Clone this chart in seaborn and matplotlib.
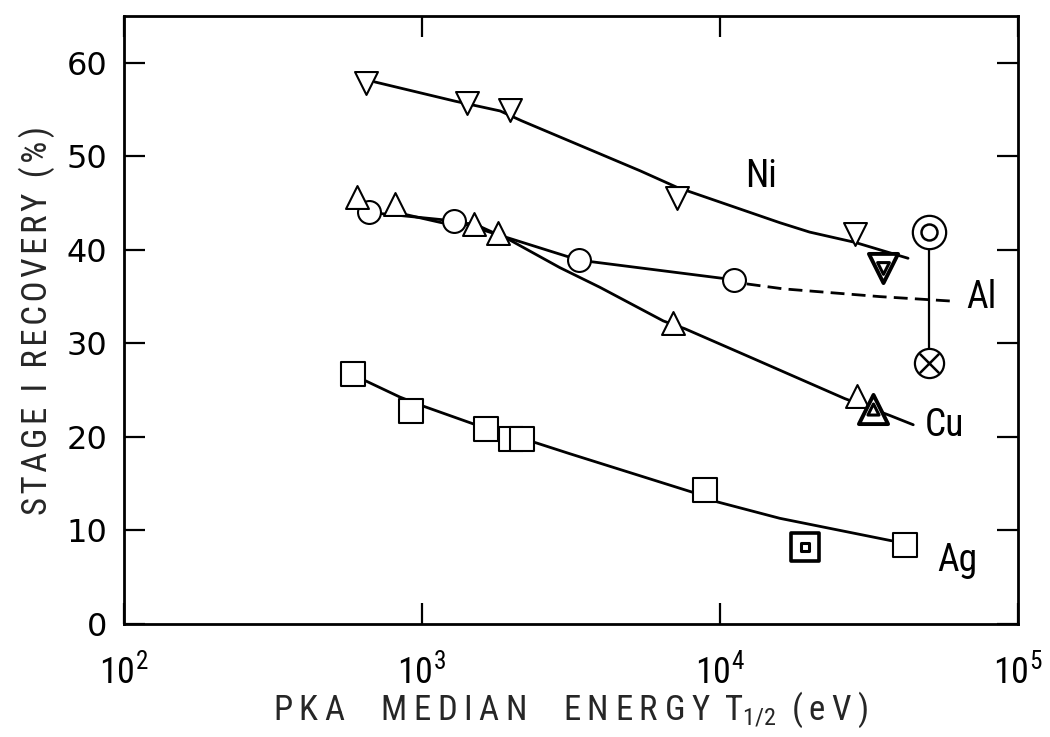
import matplotlib
matplotlib.use("Agg")
import matplotlib.pyplot as plt
import seaborn as sns
import pandas as pd
from matplotlib import font_manager

# ---------------- data ----------------
ni_x = [647, 1416, 1968, 7163, 28440]
ni_y = [57.8, 55.7, 54.9, 45.5, 41.65]
ni_curve_x = [695, 1290, 1830, 2160, 5400, 7160, 15900, 20000, 28400, 42800]
ni_curve_y = [57.95, 55.9, 54.85, 53.8, 48.45, 46.7, 42.9, 41.9, 40.8, 39.1]
ni_special_x = [35200]
ni_special_y = [38.1]

al_x = [667, 1279, 3366, 11150]
al_y = [44.0, 43.1, 38.9, 36.8]
al_dash_x = [12300, 16330, 34440, 61500]
al_dash_y = [36.36, 35.83, 35.0, 34.5]
al_special_x = [50200, 50200]
al_special_y = [41.9, 27.9]

cu_x = [607, 811, 1493, 1807, 6970, 28770]
cu_y = [45.6, 44.9, 42.8, 41.8, 32.2, 24.4]
cu_curve_x = [889, 1165, 1493, 1986, 2904, 3955, 6460, 7640, 12900, 26240, 37150, 44560]
cu_curve_y = [43.75, 42.9, 42.8, 41.0, 38.1, 36.0, 32.4, 31.56, 28.4, 24.1, 22.3, 21.3]
cu_special_x = [32700]
cu_special_y = [23.0]

ag_x = [585, 916, 1637, 1987, 2174, 8920, 41800]
ag_y = [26.75, 22.8, 20.8, 19.8, 19.8, 14.3, 8.4]
ag_curve_x = [647, 844, 1009, 1486, 2427, 3140, 8070, 9820, 15890, 37680]
ag_curve_y = [26.0, 24.26, 23.3, 21.4, 19.35, 18.2, 14.1, 13.05, 11.3, 8.9]
ag_special_x = [19320]
ag_special_y = [8.2]

labels = ["Ni", "Al", "Cu", "Ag"]
label_x = [12130, 67300, 48750, 53700]
label_y = [47.8, 34.9, 21.2, 6.8]

x_ticks = [1e2, 1e3, 1e4, 1e5]
x_ticklabels = [r"$10^{2}$", r"$10^{3}$", r"$10^{4}$", r"$10^{5}$"]
y_ticks = [0, 10, 20, 30, 40, 50, 60]

x_title_parts = ["PKA  MEDIAN  ENERGY ", r"T$_{1/2}$", " (eV)"]
y_title = "STAGE I RECOVERY (%)"

# ---------------- style ----------------
sns.set_theme(style="ticks")
avail = {f.name for f in font_manager.fontManager.ttflist}
def pick(names):
    for n in names:
        if n in avail:
            return n
    return "DejaVu Sans"
narrow = pick(["Liberation Sans Narrow", "Roboto Condensed", "DejaVu Sans"])
plt.rcParams["font.family"] = [narrow, "DejaVu Sans"]
plt.rcParams["mathtext.fontset"] = "custom"
plt.rcParams["mathtext.rm"] = narrow
plt.rcParams["mathtext.it"] = narrow
plt.rcParams["mathtext.bf"] = narrow

def spaced(s, sep="\u2009"):
    return sep.join(list(s))

fig = plt.figure(figsize=(10.5, 7.37), dpi=100)
ax = fig.add_axes([0.118, 0.1533, 0.8514, 0.825])
ax.set_xscale("log")

LW = 2.0
def curve(xs, ys, **kw):
    sns.lineplot(x=xs, y=ys, ax=ax, color="black", lw=LW, sort=False,
                 estimator=None, zorder=1, **kw)

curve(ni_curve_x, ni_curve_y)
curve(al_x, al_y)
curve(al_dash_x, al_dash_y)
ax.lines[-1].set_dashes([5, 2.6])
curve(cu_curve_x, cu_curve_y)
curve(ag_curve_x, ag_curve_y)
sns.lineplot(x=al_special_x, y=al_special_y, ax=ax, color="black", lw=1.6,
             sort=False, estimator=None, zorder=1)

def pts(xs, ys, marker, size, lw=1.5, z=3, face="white"):
    sns.scatterplot(x=xs, y=ys, ax=ax, marker=marker, s=size ** 2,
                    facecolor=face, edgecolor="black", linewidth=lw,
                    zorder=z, legend=False)

pts(ni_x, ni_y, "v", 16.5)
pts(al_x, al_y, "o", 16.5)
pts(cu_x, cu_y, "^", 16.5)
pts(ag_x, ag_y, "s", 17)

# special (double) symbols
pts(ni_special_x, ni_special_y, "v", 21, lw=2.8, z=4)
pts(ni_special_x, ni_special_y, "v", 8.5, lw=2.2, z=5)
pts(cu_special_x, cu_special_y, "^", 21, lw=2.8, z=4)
pts(cu_special_x, cu_special_y, "^", 8, lw=2.2, z=5)
pts(ag_special_x, ag_special_y, "s", 20, lw=2.6, z=4)
pts(ag_special_x, ag_special_y, "s", 6, lw=2.2, z=5)
pts(al_special_x[:1], al_special_y[:1], "o", 24, lw=1.6, z=4)
pts(al_special_x[:1], al_special_y[:1], "o", 11.5, lw=1.8, z=5)
pts(al_special_x[1:], al_special_y[1:], "o", 21, lw=1.6, z=4)
sns.scatterplot(x=al_special_x[1:], y=al_special_y[1:], ax=ax, marker="x",
                s=14 ** 2, color="black", linewidth=1.8, zorder=5, legend=False)

for t, x, y in zip(labels, label_x, label_y):
    ax.text(x, y, t, ha="left", va="center", fontsize=27, color="black")

# ---------------- axes ----------------
ax.set_xlim(1e2, 1e5)
ax.set_ylim(0, 65)
ax.set_xticks(x_ticks)
ax.set_xticklabels(x_ticklabels)
ax.minorticks_off()
ax.set_yticks(y_ticks)
ax.set_yticklabels([str(v) for v in y_ticks], family="DejaVu Sans")
ax.tick_params(direction="in", length=15, width=1.6, top=True, right=True,
               labelsize=23, colors="black")
ax.tick_params(axis="y", pad=12)
ax.tick_params(axis="x", pad=21, labelsize=26)
for sp in ax.spines.values():
    sp.set_linewidth(2.0)
    sp.set_color("black")
    sp.set_visible(True)
ax.set_facecolor("white")
fig.patch.set_facecolor("white")

xt = spaced(x_title_parts[0]) + x_title_parts[1] + spaced(x_title_parts[2])
ax.set_xlabel(xt, fontsize=25)
ax.xaxis.set_label_coords(0.5, -0.108)
ax.set_ylabel(spaced(y_title, "\u200a"), fontsize=25)
ax.yaxis.set_label_coords(-0.077, 0.5)
ax.grid(False)

fig.savefig("out.png", dpi=100)
